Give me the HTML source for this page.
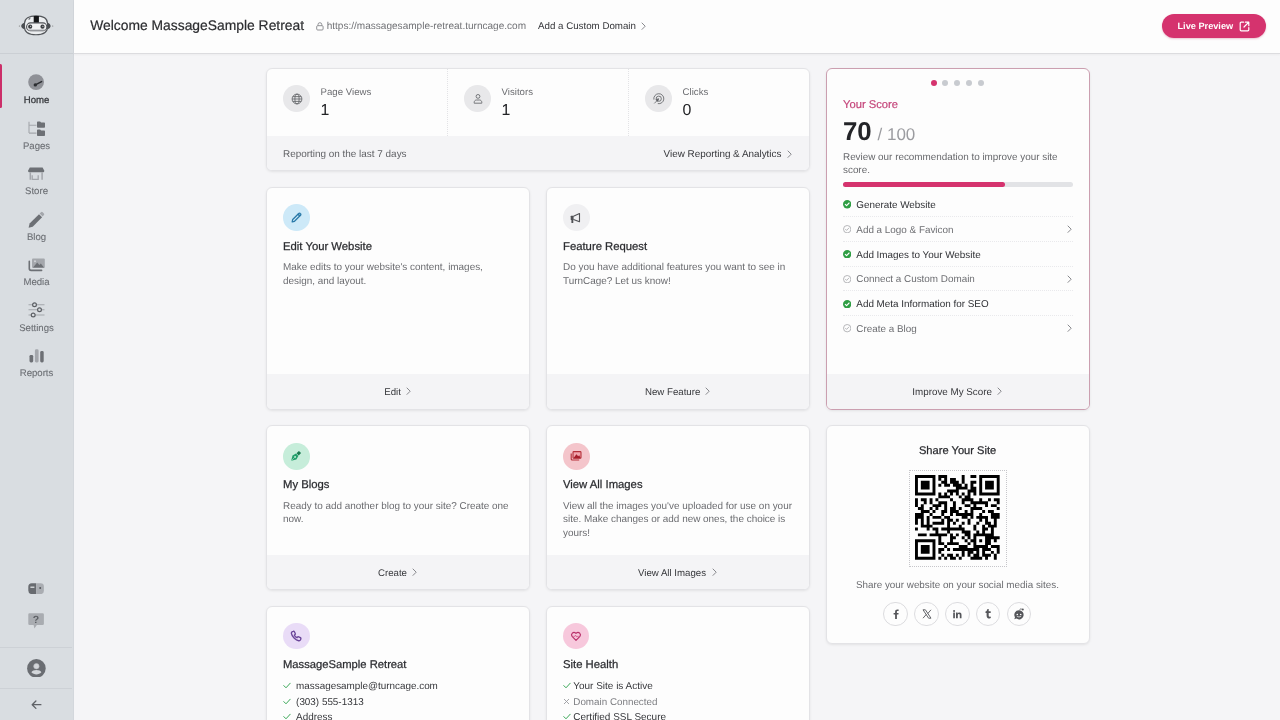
<!DOCTYPE html>
<html><head><meta charset="utf-8"><style>
*{box-sizing:border-box;margin:0;padding:0}
html,body{width:1280px;height:720px;overflow:hidden;-webkit-font-smoothing:antialiased;text-rendering:geometricPrecision;background:#f5f5f7;font-family:"Liberation Sans",Arial,sans-serif;color:#2f3033}
.a{position:absolute;display:block}
.t{position:absolute;line-height:1;white-space:nowrap}
.card{position:absolute;background:#fdfdfd;border:1px solid #e3e3e6;border-radius:6px;box-shadow:0 1px 2.5px rgba(0,0,0,.08);overflow:hidden}
.foot{position:absolute;left:0;right:0;bottom:0;background:#f4f4f6}
.b{-webkit-text-stroke:0.25px currentColor}
</style></head><body><div id="root" style="position:absolute;left:0;top:0;width:1280px;height:720px;will-change:transform">
<div class="a" style="left:0;top:0;width:74px;height:720px;background:#d9dde1"></div>
<div class="a" style="left:72.5px;top:0;width:1.5px;height:720px;background:#d3d7dc"></div>
<div class="a" style="left:0;top:53px;width:72.5px;height:1px;background:#cbcfd4"></div>
<div class="a" style="left:0;top:647px;width:72px;height:1px;background:#cdd1d6"></div>
<div class="a" style="left:0;top:688px;width:72px;height:1px;background:#cdd1d6"></div>
<div class="a" style="left:0;top:64.3px;width:2.3px;height:44px;background:#cc2f69;border-radius:0 1.5px 1.5px 0"></div>
<svg class="a" style="left:18.00px;top:14.00px" width="36" height="23" viewBox="0 0 36 23" ><path d="M6.5 9.5 C6.5 4 11 1.9 18 1.9 C25 1.9 29.5 4 29.5 9.5 L29.5 13 C29.5 18.5 24.5 20.8 18 20.8 C11.5 20.8 6.5 18.5 6.5 13 Z" fill="#eceef0" stroke="#54575b" stroke-width="1.1"/><path d="M6.6 8.5 C4.6 9.2 3.2 10.6 3.2 12 C3.2 13.4 4.6 14.6 6.6 15.2 Z" fill="#4a4d51"/><path d="M29.4 8.5 C31.4 9.2 32.6 10.6 32.6 12 C32.6 13.4 31.4 14.6 29.4 15.2 Z" fill="#4a4d51"/><circle cx="1.4" cy="12" r="0.6" fill="#777"/><circle cx="34.7" cy="12" r="0.6" fill="#777"/><rect x="15.7" y="2" width="5.2" height="6.8" fill="#151618"/><path d="M9.8 5.2 L12.6 3.4 L12 5.4 Z" fill="#55585c"/><rect x="8.6" y="8.9" width="20.2" height="7.9" rx="3.9" fill="#f1f1f2" stroke="#505357" stroke-width="1.1"/><path d="M10.5 16.2 H27" stroke="#9a9da1" stroke-width="1.2"/><circle cx="12.2" cy="12.7" r="2.1" fill="#3c3f43"/><circle cx="24.5" cy="12.7" r="2.1" fill="#3c3f43"/><circle cx="12.6" cy="12.3" r="0.6" fill="#ccc"/><circle cx="24.9" cy="12.3" r="0.6" fill="#ccc"/></svg>
<svg class="a" style="left:28.00px;top:74.40px" width="16.2" height="16.2" viewBox="0 0 16.2 16.2" ><circle cx="8.1" cy="8.1" r="7.9" fill="#8f9197"/><path d="M7.3 10.9 L13.6 7.6" stroke="#2c2e32" stroke-width="1.5" stroke-linecap="round"/><circle cx="7.3" cy="10.9" r="1.7" fill="#2c2e32"/></svg>
<svg class="a" style="left:27.50px;top:120.50px" width="17.5" height="15" viewBox="0 0 17.5 15" ><path d="M1 0.8V12.1M1 4.3H8.5M1 12.1H8.5" fill="none" stroke="#a4a7ac" stroke-width="1.1"/><path d="M9 1.3a.8.8 0 0 1 .8-.8h2.3l1 1h3.1a.8.8 0 0 1 .8.8V6a.8.8 0 0 1-.8.8H9.8A.8.8 0 0 1 9 6z" fill="#6d7075"/><path d="M9 9.2a.8.8 0 0 1 .8-.8h2.3l1 1h3.1a.8.8 0 0 1 .8.8v4a.8.8 0 0 1-.8.8H9.8a.8.8 0 0 1-.8-.8z" fill="#6d7075"/></svg>
<svg class="a" style="left:28.00px;top:166.50px" width="16.5" height="13.5" viewBox="0 0 16.5 13.5" ><path d="M1.8 0.6H14.6L16.2 3.6V4.6H0.2V3.6Z" fill="#6d7075"/><rect x="0.3" y="3.6" width="15.8" height="1.6" rx="0.8" fill="#6d7075"/><path d="M2.3 5.2V12.8M14.1 5.2V12.8" stroke="#a4a7ac" stroke-width="1.5"/><path d="M4.2 8.3V12.4H10.2V8.3" fill="none" stroke="#a4a7ac" stroke-width="1.3"/></svg>
<svg class="a" style="left:28.00px;top:210.50px" width="16.5" height="17.5" viewBox="0 0 16.5 17.5" ><path d="M0.6 16.8 L1.6 12.6 L11 3.2 L14.1 6.3 L4.7 15.7 Z" fill="#6d7075"/><path d="M11.6 2.6 L13 1.2 a1.2 1.2 0 0 1 1.7 0 L15.9 2.4 a1.2 1.2 0 0 1 0 1.7 L14.6 5.6 Z" fill="#a4a7ac"/></svg>
<svg class="a" style="left:27.50px;top:258.00px" width="17.5" height="13.5" viewBox="0 0 17.5 13.5" ><path d="M1.3 3.2V10.6a1.8 1.8 0 0 0 1.8 1.8H13.6" fill="none" stroke="#6d7075" stroke-width="1.6" stroke-linecap="round"/><rect x="4" y="0.5" width="12.8" height="9.5" rx="1" fill="#a4a7ac"/><path d="M5 9.4 L9.2 4.6 L11.4 7 L12.8 5.6 L16 9.4 Z" fill="#6d7075"/><circle cx="7" cy="3.2" r="1" fill="#d0d3d7"/></svg>
<svg class="a" style="left:27.50px;top:302.00px" width="17.5" height="16" viewBox="0 0 17.5 16" ><path d="M0.5 2.8H16.5M0.5 7.8H16.5M0.5 13H16.5" stroke="#a4a7ac" stroke-width="1.1"/><circle cx="6.5" cy="2.8" r="1.9" fill="#d9dde1" stroke="#5d6065" stroke-width="1.2"/><circle cx="11.5" cy="7.8" r="1.9" fill="#d9dde1" stroke="#5d6065" stroke-width="1.2"/><circle cx="5.2" cy="13" r="1.9" fill="#d9dde1" stroke="#5d6065" stroke-width="1.2"/></svg>
<svg class="a" style="left:28.50px;top:348.50px" width="15.5" height="14" viewBox="0 0 15.5 14" ><rect x="0.5" y="5.9" width="3.7" height="7.6" rx="1.4" fill="#6d7075"/><rect x="5.9" y="0.3" width="3.7" height="13.2" rx="1.4" fill="#a4a7ac"/><rect x="11.2" y="2.1" width="3.5" height="11.4" rx="1.4" fill="#6d7075"/></svg>
<svg class="a" style="left:27.80px;top:582.80px" width="16.2" height="11.4" viewBox="0 0 16.2 11.4" ><path d="M3.8 0.3H8.2V11.1H3.8A3.5 3.5 0 0 1 0.3 7.6V3.8A3.5 3.5 0 0 1 3.8 0.3Z" fill="#686b70"/><path d="M8.2 0.3H12.6A3.3 3.3 0 0 1 15.9 3.6V7.8A3.3 3.3 0 0 1 12.6 11.1H8.2Z" fill="#aaadb2"/><path d="M2.4 4.2H6.4" stroke="#e8eaec" stroke-width="1.2"/><circle cx="12.2" cy="5" r="1" fill="#55585c"/></svg>
<svg class="a" style="left:27.80px;top:612.50px" width="16.2" height="16.5" viewBox="0 0 16.2 16.5" ><path d="M1.6 0.3H14.6A1.3 1.3 0 0 1 15.9 1.6V10.7A1.3 1.3 0 0 1 14.6 12H8.8L6.4 15.6L5.6 12H1.6A1.3 1.3 0 0 1 0.3 10.7V1.6A1.3 1.3 0 0 1 1.6 0.3Z" fill="#a9acb1"/><text x="8.1" y="10" text-anchor="middle" font-family="Liberation Sans" font-weight="bold" font-size="10.5" fill="#5c5f64">?</text></svg>
<svg class="a" style="left:26.90px;top:658.60px" width="18.8" height="18.8" viewBox="0 0 18.8 18.8" ><circle cx="9.4" cy="9.4" r="9.3" fill="#6a6d72"/><circle cx="9.4" cy="7.2" r="2.7" fill="#d3d6da" stroke="#b8bbc0" stroke-width="0.6"/><path d="M4.4 13.3 C5.2 11.6 7 10.9 9.4 10.9 C11.8 10.9 13.6 11.6 14.4 13.3 C13 14.8 11.3 15.4 9.4 15.4 C7.5 15.4 5.8 14.8 4.4 13.3 Z" fill="#d3d6da"/></svg>
<svg class="a" style="left:31.00px;top:700.00px" width="11" height="9.5" viewBox="0 0 11 9.5" ><path d="M9.9 4.7H1.3M4.9 1 L1.2 4.7 L4.9 8.4" fill="none" stroke="#5f6267" stroke-width="1.3" stroke-linecap="round" stroke-linejoin="round"/></svg>
<div class="t" style="left:-0.50px;width:74px;text-align:center;top:96.00px;font-size:9.6px;color:#3a3c40;-webkit-text-stroke:0.3px currentColor">Home</div>
<div class="t" style="left:-0.50px;width:74px;text-align:center;top:142.00px;font-size:9.6px;color:#6c6f74;-webkit-text-stroke:0.1px currentColor">Pages</div>
<div class="t" style="left:-0.50px;width:74px;text-align:center;top:187.00px;font-size:9.6px;color:#6c6f74;-webkit-text-stroke:0.1px currentColor">Store</div>
<div class="t" style="left:-0.50px;width:74px;text-align:center;top:233.00px;font-size:9.6px;color:#6c6f74;-webkit-text-stroke:0.1px currentColor">Blog</div>
<div class="t" style="left:-0.50px;width:74px;text-align:center;top:278.00px;font-size:9.6px;color:#6c6f74;-webkit-text-stroke:0.1px currentColor">Media</div>
<div class="t" style="left:-0.50px;width:74px;text-align:center;top:324.00px;font-size:9.6px;color:#6c6f74;-webkit-text-stroke:0.1px currentColor">Settings</div>
<div class="t" style="left:-0.50px;width:74px;text-align:center;top:369.00px;font-size:9.6px;color:#6c6f74;-webkit-text-stroke:0.1px currentColor">Reports</div>
<div class="a" style="left:74px;top:0;width:1206px;height:54px;background:#fdfdfd;border-bottom:1px solid #dcdcdf;box-shadow:0 1px 2px rgba(0,0,0,.04)"></div>
<div class="t" style="left:90.20px;top:19.00px;font-size:13.87px;color:#2c2d30;-webkit-text-stroke:0.2px currentColor">Welcome MassageSample Retreat</div>
<div class="t" style="left:326.70px;top:22.00px;font-size:10.06px;color:#717276;">https://massagesample-retreat.turncage.com</div>
<div class="t" style="left:538.00px;top:22.00px;font-size:9.74px;color:#35363a;">Add a Custom Domain</div>
<svg class="a" style="left:641.00px;top:21.60px" width="6.2" height="8.4" viewBox="-1 -4.2 6.2 8.4"><path d="M0 -3.2L3.2 0L0 3.2" fill="none" stroke="#7a7b7f" stroke-width="0.9" stroke-linecap="round" stroke-linejoin="round"/></svg>
<svg class="a" style="left:315.50px;top:21.50px" width="8" height="9" viewBox="0 0 8 9" ><rect x="0.7" y="3.7" width="6.4" height="4.3" rx="1" fill="none" stroke="#86878b" stroke-width="0.9"/><path d="M2 3.7V2.6a1.9 1.9 0 0 1 3.8 0v1.1" fill="none" stroke="#86878b" stroke-width="0.9"/></svg>
<div class="a" style="left:1162px;top:14px;width:104px;height:23.5px;border-radius:12px;background:#d5336e;box-shadow:0 1px 2px rgba(180,30,80,.25)"></div>
<div class="t" style="left:1177.50px;top:22.00px;font-size:9.2px;color:#fff;font-weight:bold">Live Preview</div>
<svg class="a" style="left:1239.40px;top:20.60px" width="11" height="11" viewBox="0 0 11 11" ><path d="M4.5 1.2H2.2a1 1 0 0 0-1 1v6.6a1 1 0 0 0 1 1h6.6a1 1 0 0 0 1-1V6.5M6.3 1.2h3.5v3.5M9.8 1.2L5 6" fill="none" stroke="#fff" stroke-width="1.2" stroke-linecap="round" stroke-linejoin="round"/></svg>
<div class="card" style="left:266px;top:68px;width:544px;height:103px;"><div class="foot" style="height:34px"></div></div>
<div class="card" style="left:826px;top:68px;width:264px;height:342px;border-color:#cb9fb0;"><div class="foot" style="height:34.6px"></div></div>
<div class="card" style="left:266px;top:187px;width:264px;height:223px;"><div class="foot" style="height:34.8px"></div></div>
<div class="card" style="left:546px;top:187px;width:264px;height:223px;"><div class="foot" style="height:34.8px"></div></div>
<div class="card" style="left:266px;top:425px;width:264px;height:165px;"><div class="foot" style="height:34px"></div></div>
<div class="card" style="left:546px;top:425px;width:264px;height:165px;"><div class="foot" style="height:34px"></div></div>
<div class="card" style="left:826px;top:425px;width:264px;height:219px;"></div>
<div class="card" style="left:266px;top:606px;width:264px;height:140px;"></div>
<div class="card" style="left:546px;top:606px;width:264px;height:140px;"></div>
<div class="a" style="left:447.3px;top:69px;height:67px;border-left:1px dotted #e3e3e6"></div>
<div class="a" style="left:628.3px;top:69px;height:67px;border-left:1px dotted #e3e3e6"></div>
<div class="a" style="left:283.35px;top:85.45px;width:26.5px;height:26.5px;border-radius:50%;background:#e8e8ea"></div>
<svg class="a" style="left:290.60px;top:92.70px" width="12" height="12" viewBox="0 0 12 12" fill="none" stroke="#626468" stroke-width="0.85"><circle cx="6" cy="6" r="4.9"/><ellipse cx="6" cy="6" rx="2.1" ry="4.9"/><path d="M1.1 6h9.8M1.9 3.6h8.2M1.9 8.4h8.2"/></svg>
<div class="t" style="left:320.60px;top:88.00px;font-size:9.65px;color:#6b6c70;">Page Views</div>
<div class="t" style="left:320.60px;top:103.00px;font-size:15.9px;color:#222326;">1</div>
<div class="a" style="left:464.35px;top:85.45px;width:26.5px;height:26.5px;border-radius:50%;background:#e8e8ea"></div>
<svg class="a" style="left:471.60px;top:92.70px" width="12" height="12" viewBox="0 0 12 12" fill="none" stroke="#626468" stroke-width="0.85"><circle cx="6" cy="3.4" r="1.9"/><path d="M2.2 10.2V9.3c0-1.3 1-2.3 2.3-2.3h3c1.3 0 2.3 1 2.3 2.3v.9z"/></svg>
<div class="t" style="left:501.60px;top:88.00px;font-size:9.65px;color:#6b6c70;">Visitors</div>
<div class="t" style="left:501.60px;top:103.00px;font-size:15.9px;color:#222326;">1</div>
<div class="a" style="left:645.35px;top:85.45px;width:26.5px;height:26.5px;border-radius:50%;background:#e8e8ea"></div>
<svg class="a" style="left:652.60px;top:92.70px" width="12" height="12" viewBox="0 0 12 12" fill="none" stroke="#626468" stroke-width="0.85"><path d="M0.9 6.6A5 5 0 1 1 4.8 10.6"/><path d="M3.2 6.2A2.6 2.6 0 1 1 5.3 8.3"/><path d="M1.3 10.4L4 7.7"/><path d="M5.6 5.7L2.9 6.7L4.7 8.5Z" fill="#55575b"/></svg>
<div class="t" style="left:682.60px;top:88.00px;font-size:9.65px;color:#6b6c70;">Clicks</div>
<div class="t" style="left:682.60px;top:103.00px;font-size:15.9px;color:#222326;">0</div>
<div class="t" style="left:283.00px;top:150.00px;font-size:9.93px;color:#616266;">Reporting on the last 7 days</div>
<div class="t" style="left:663.60px;top:150.00px;font-size:9.89px;color:#36373b;">View Reporting &amp; Analytics</div>
<svg class="a" style="left:787.20px;top:149.80px" width="6.2" height="8.4" viewBox="-1 -4.2 6.2 8.4"><path d="M0 -3.2L3.2 0L0 3.2" fill="none" stroke="#7a7b7f" stroke-width="0.9" stroke-linecap="round" stroke-linejoin="round"/></svg>
<div class="a" style="left:930.50px;top:80.00px;width:6px;height:6px;border-radius:50%;background:#d5336e"></div>
<div class="a" style="left:942.47px;top:80.00px;width:6px;height:6px;border-radius:50%;background:#c8cbd0"></div>
<div class="a" style="left:954.44px;top:80.00px;width:6px;height:6px;border-radius:50%;background:#c8cbd0"></div>
<div class="a" style="left:966.41px;top:80.00px;width:6px;height:6px;border-radius:50%;background:#c8cbd0"></div>
<div class="a" style="left:978.38px;top:80.00px;width:6px;height:6px;border-radius:50%;background:#c8cbd0"></div>
<div class="t" style="left:843.00px;top:100.00px;font-size:11.2px;color:#c4457a;-webkit-text-stroke:0.2px currentColor">Your Score</div>
<div class="t" style="left:843.00px;top:120.00px;font-size:25.8px;color:#232428;font-weight:bold">70</div>
<div class="t" style="left:877.50px;top:126.00px;font-size:17px;color:#9b9ca0;">/ 100</div>
<div class="t" style="left:843.00px;top:153.00px;font-size:9.9px;color:#67686c;">Review our recommendation to improve your site</div>
<div class="t" style="left:843.00px;top:166.00px;font-size:9.9px;color:#67686c;">score.</div>
<div class="a" style="left:843px;top:182px;width:230px;height:5px;border-radius:3px;background:#e2e3e6"></div>
<div class="a" style="left:843px;top:182px;width:161.5px;height:5px;border-radius:3px;background:#d5336e"></div>
<svg class="a" style="left:842.50px;top:200.30px" width="8.4" height="8.4" viewBox="0 0 8.4 8.4" ><circle cx="4.2" cy="4.2" r="4.2" fill="#2f9e44"/><path d="M2.3 4.3l1.3 1.3 2.5-2.6" fill="none" stroke="#fff" stroke-width="1.1" stroke-linecap="round" stroke-linejoin="round"/></svg>
<div class="t" style="left:856.30px;top:201.00px;font-size:9.9px;color:#2f3034;">Generate Website</div>
<div class="a" style="left:843px;top:215.9px;width:230px;border-top:1px dotted #e9e9ec"></div>
<svg class="a" style="left:842.50px;top:225.10px" width="8.4" height="8.4" viewBox="0 0 8.4 8.4" ><circle cx="4.2" cy="4.2" r="3.7" fill="none" stroke="#a5a6aa" stroke-width="0.8"/><path d="M2.5 4.3l1.1 1.1 2.2-2.3" fill="none" stroke="#a5a6aa" stroke-width="0.8" stroke-linecap="round" stroke-linejoin="round"/></svg>
<div class="t" style="left:856.30px;top:226.00px;font-size:9.9px;color:#6d6e72;">Add a Logo &amp; Favicon</div>
<svg class="a" style="left:1067.30px;top:225.10px" width="6.2" height="8.4" viewBox="-1 -4.2 6.2 8.4"><path d="M0 -3.2L3.2 0L0 3.2" fill="none" stroke="#7a7b7f" stroke-width="0.9" stroke-linecap="round" stroke-linejoin="round"/></svg>
<div class="a" style="left:843px;top:240.7px;width:230px;border-top:1px dotted #e9e9ec"></div>
<svg class="a" style="left:842.50px;top:249.90px" width="8.4" height="8.4" viewBox="0 0 8.4 8.4" ><circle cx="4.2" cy="4.2" r="4.2" fill="#2f9e44"/><path d="M2.3 4.3l1.3 1.3 2.5-2.6" fill="none" stroke="#fff" stroke-width="1.1" stroke-linecap="round" stroke-linejoin="round"/></svg>
<div class="t" style="left:856.30px;top:251.00px;font-size:9.9px;color:#2f3034;">Add Images to Your Website</div>
<div class="a" style="left:843px;top:265.5px;width:230px;border-top:1px dotted #e9e9ec"></div>
<svg class="a" style="left:842.50px;top:274.70px" width="8.4" height="8.4" viewBox="0 0 8.4 8.4" ><circle cx="4.2" cy="4.2" r="3.7" fill="none" stroke="#a5a6aa" stroke-width="0.8"/><path d="M2.5 4.3l1.1 1.1 2.2-2.3" fill="none" stroke="#a5a6aa" stroke-width="0.8" stroke-linecap="round" stroke-linejoin="round"/></svg>
<div class="t" style="left:856.30px;top:275.00px;font-size:9.9px;color:#6d6e72;">Connect a Custom Domain</div>
<svg class="a" style="left:1067.30px;top:274.70px" width="6.2" height="8.4" viewBox="-1 -4.2 6.2 8.4"><path d="M0 -3.2L3.2 0L0 3.2" fill="none" stroke="#7a7b7f" stroke-width="0.9" stroke-linecap="round" stroke-linejoin="round"/></svg>
<div class="a" style="left:843px;top:290.3px;width:230px;border-top:1px dotted #e9e9ec"></div>
<svg class="a" style="left:842.50px;top:299.50px" width="8.4" height="8.4" viewBox="0 0 8.4 8.4" ><circle cx="4.2" cy="4.2" r="4.2" fill="#2f9e44"/><path d="M2.3 4.3l1.3 1.3 2.5-2.6" fill="none" stroke="#fff" stroke-width="1.1" stroke-linecap="round" stroke-linejoin="round"/></svg>
<div class="t" style="left:856.30px;top:300.00px;font-size:9.9px;color:#2f3034;">Add Meta Information for SEO</div>
<div class="a" style="left:843px;top:315.1px;width:230px;border-top:1px dotted #e9e9ec"></div>
<svg class="a" style="left:842.50px;top:324.30px" width="8.4" height="8.4" viewBox="0 0 8.4 8.4" ><circle cx="4.2" cy="4.2" r="3.7" fill="none" stroke="#a5a6aa" stroke-width="0.8"/><path d="M2.5 4.3l1.1 1.1 2.2-2.3" fill="none" stroke="#a5a6aa" stroke-width="0.8" stroke-linecap="round" stroke-linejoin="round"/></svg>
<div class="t" style="left:856.30px;top:325.00px;font-size:9.9px;color:#6d6e72;">Create a Blog</div>
<svg class="a" style="left:1067.30px;top:324.30px" width="6.2" height="8.4" viewBox="-1 -4.2 6.2 8.4"><path d="M0 -3.2L3.2 0L0 3.2" fill="none" stroke="#7a7b7f" stroke-width="0.9" stroke-linecap="round" stroke-linejoin="round"/></svg>
<div class="t" style="left:912.30px;top:388.00px;font-size:9.82px;color:#36373b;">Improve My Score</div>
<svg class="a" style="left:996.60px;top:387.30px" width="6.2" height="8.4" viewBox="-1 -4.2 6.2 8.4"><path d="M0 -3.2L3.2 0L0 3.2" fill="none" stroke="#7a7b7f" stroke-width="0.9" stroke-linecap="round" stroke-linejoin="round"/></svg>
<div class="a" style="left:282.95px;top:204.35px;width:26.7px;height:26.7px;border-radius:50%;background:#cde9f8"></div>
<svg class="a" style="left:290.00px;top:211.50px" width="12" height="12" viewBox="0 0 12 12" ><path d="M2.2 9.8l.5-2.3 6-6a1.1 1.1 0 0 1 1.6 0l.2.2a1.1 1.1 0 0 1 0 1.6l-6 6z" fill="none" stroke="#2a7aa9" stroke-width="1.3" stroke-linejoin="round"/><path d="M7.8 1.9l2.3 2.3" stroke="#2a7aa9" stroke-width="1.6"/></svg>
<div class="t b" style="left:283.00px;top:242.00px;font-size:11.3px;color:#2b2c30;">Edit Your Website</div>
<div class="t" style="left:283.00px;top:263.00px;font-size:9.93px;color:#6b6c70;">Make edits to your website's content, images,</div>
<div class="t" style="left:283.00px;top:277.00px;font-size:9.93px;color:#6b6c70;">design, and layout.</div>
<div class="t" style="left:384.30px;top:388.00px;font-size:9.66px;color:#36373b;">Edit</div>
<svg class="a" style="left:405.90px;top:387.40px" width="6.2" height="8.4" viewBox="-1 -4.2 6.2 8.4"><path d="M0 -3.2L3.2 0L0 3.2" fill="none" stroke="#7a7b7f" stroke-width="0.9" stroke-linecap="round" stroke-linejoin="round"/></svg>
<div class="a" style="left:562.95px;top:204.35px;width:26.7px;height:26.7px;border-radius:50%;background:#f0f0f2"></div>
<svg class="a" style="left:570.20px;top:212.20px" width="12" height="12" viewBox="0 0 12 12" ><rect x="0.7" y="3.8" width="2.9" height="4.2" rx="0.5" fill="#505155"/><rect x="1.4" y="7.4" width="1.9" height="3.6" rx="0.5" fill="#505155"/><path d="M3.5 4.3L9.5 1.6V9.8L3.5 7.5" fill="none" stroke="#505155" stroke-width="1.1" stroke-linejoin="round"/></svg>
<div class="t b" style="left:563.00px;top:242.00px;font-size:11.3px;color:#2b2c30;">Feature Request</div>
<div class="t" style="left:563.00px;top:263.00px;font-size:9.93px;color:#6b6c70;">Do you have additional features you want to see in</div>
<div class="t" style="left:563.00px;top:277.00px;font-size:9.93px;color:#6b6c70;">TurnCage? Let us know!</div>
<div class="t" style="left:645.00px;top:388.00px;font-size:9.66px;color:#36373b;">New Feature</div>
<svg class="a" style="left:705.00px;top:387.40px" width="6.2" height="8.4" viewBox="-1 -4.2 6.2 8.4"><path d="M0 -3.2L3.2 0L0 3.2" fill="none" stroke="#7a7b7f" stroke-width="0.9" stroke-linecap="round" stroke-linejoin="round"/></svg>
<div class="a" style="left:282.95px;top:442.85px;width:26.7px;height:26.7px;border-radius:50%;background:#c6edda"></div>
<svg class="a" style="left:290.00px;top:449.50px" width="12" height="12" viewBox="0 0 12 12" ><path d="M1.2 10.8L2.5 5.6L6 3.6L8.4 6L6.4 9.5Z" fill="#22a06b"/><path d="M6.5 3.3L8.9 0.9L11.1 3.1L8.7 5.5Z" fill="#1a7a50"/><circle cx="5.1" cy="6.9" r="0.95" fill="#c6edda"/><path d="M1.5 10.5L4.5 7.5" stroke="#c6edda" stroke-width="0.5"/></svg>
<div class="t b" style="left:283.00px;top:480.00px;font-size:11.3px;color:#2b2c30;">My Blogs</div>
<div class="t" style="left:283.00px;top:502.00px;font-size:9.93px;color:#6b6c70;">Ready to add another blog to your site? Create one</div>
<div class="t" style="left:283.00px;top:515.00px;font-size:9.93px;color:#6b6c70;">now.</div>
<div class="t" style="left:378.00px;top:569.00px;font-size:9.66px;color:#36373b;">Create</div>
<svg class="a" style="left:412.20px;top:567.90px" width="6.2" height="8.4" viewBox="-1 -4.2 6.2 8.4"><path d="M0 -3.2L3.2 0L0 3.2" fill="none" stroke="#7a7b7f" stroke-width="0.9" stroke-linecap="round" stroke-linejoin="round"/></svg>
<div class="a" style="left:562.95px;top:442.85px;width:26.7px;height:26.7px;border-radius:50%;background:#f4c5cb"></div>
<svg class="a" style="left:570.00px;top:450.00px" width="12" height="12" viewBox="0 0 12 12" ><path d="M1.2 3.6v5.4a1 1 0 0 0 1 1h7" fill="none" stroke="#b5303a" stroke-width="1.1"/><rect x="3" y="1.6" width="8" height="6.6" rx="0.8" fill="#f0a5ad" stroke="#b5303a" stroke-width="1.1"/><path d="M3.4 8.2L6.4 4.2L8.2 6.2L9.2 5.2L10.8 8.2Z" fill="#a61e2b"/></svg>
<div class="t b" style="left:563.00px;top:480.00px;font-size:11.3px;color:#2b2c30;">View All Images</div>
<div class="t" style="left:563.00px;top:502.00px;font-size:9.93px;color:#6b6c70;">View all the images you've uploaded for use on your</div>
<div class="t" style="left:563.00px;top:515.00px;font-size:9.93px;color:#6b6c70;">site. Make changes or add new ones, the choice is</div>
<div class="t" style="left:563.00px;top:529.00px;font-size:9.93px;color:#6b6c70;">yours!</div>
<div class="t" style="left:638.00px;top:569.00px;font-size:9.66px;color:#36373b;">View All Images</div>
<svg class="a" style="left:711.70px;top:567.90px" width="6.2" height="8.4" viewBox="-1 -4.2 6.2 8.4"><path d="M0 -3.2L3.2 0L0 3.2" fill="none" stroke="#7a7b7f" stroke-width="0.9" stroke-linecap="round" stroke-linejoin="round"/></svg>
<div class="t" style="left:807.60px;width:300px;text-align:center;top:446.00px;font-size:11.14px;color:#2b2c30;-webkit-text-stroke:0.25px currentColor">Share Your Site</div>
<div class="a" style="left:908.8px;top:469.5px;width:98px;height:97.5px;border:1px dotted #c6c6ca"></div>
<svg class="a" style="left:915.3px;top:475.3px" width="84.68" height="84.68" viewBox="0 0 29 29"><path d="M0 0h7v1h-7zM8 0h3v1h-3zM16 0h1v1h-1zM19 0h2v1h-2zM22 0h7v1h-7zM0 1h1v1h-1zM6 1h1v1h-1zM8 1h1v1h-1zM10 1h1v1h-1zM12 1h2v1h-2zM16 1h1v1h-1zM22 1h1v1h-1zM28 1h1v1h-1zM0 2h1v1h-1zM2 2h3v1h-3zM6 2h1v1h-1zM9 2h2v1h-2zM12 2h3v1h-3zM16 2h1v1h-1zM19 2h2v1h-2zM22 2h1v1h-1zM24 2h3v1h-3zM28 2h1v1h-1zM0 3h1v1h-1zM2 3h3v1h-3zM6 3h1v1h-1zM8 3h1v1h-1zM10 3h2v1h-2zM13 3h3v1h-3zM17 3h1v1h-1zM19 3h1v1h-1zM22 3h1v1h-1zM24 3h3v1h-3zM28 3h1v1h-1zM0 4h1v1h-1zM2 4h3v1h-3zM6 4h1v1h-1zM14 4h4v1h-4zM19 4h2v1h-2zM22 4h1v1h-1zM24 4h3v1h-3zM28 4h1v1h-1zM0 5h1v1h-1zM6 5h1v1h-1zM11 5h4v1h-4zM18 5h3v1h-3zM22 5h1v1h-1zM28 5h1v1h-1zM0 6h7v1h-7zM8 6h1v1h-1zM10 6h1v1h-1zM12 6h1v1h-1zM14 6h1v1h-1zM16 6h1v1h-1zM18 6h1v1h-1zM20 6h1v1h-1zM22 6h7v1h-7zM8 7h4v1h-4zM15 7h1v1h-1zM17 7h2v1h-2zM0 8h1v1h-1zM2 8h2v1h-2zM5 8h1v1h-1zM7 8h1v1h-1zM12 8h1v1h-1zM16 8h4v1h-4zM22 8h1v1h-1zM25 8h1v1h-1zM27 8h2v1h-2zM0 9h1v1h-1zM3 9h1v1h-1zM5 9h1v1h-1zM8 9h3v1h-3zM13 9h1v1h-1zM16 9h1v1h-1zM19 9h6v1h-6zM28 9h1v1h-1zM0 10h1v1h-1zM2 10h1v1h-1zM6 10h3v1h-3zM10 10h1v1h-1zM13 10h1v1h-1zM17 10h2v1h-2zM20 10h1v1h-1zM24 10h1v1h-1zM26 10h2v1h-2zM1 11h2v1h-2zM5 11h1v1h-1zM7 11h1v1h-1zM10 11h1v1h-1zM12 11h2v1h-2zM15 11h1v1h-1zM19 11h4v1h-4zM28 11h1v1h-1zM2 12h3v1h-3zM6 12h1v1h-1zM9 12h2v1h-2zM12 12h3v1h-3zM17 12h1v1h-1zM19 12h1v1h-1zM23 12h1v1h-1zM25 12h2v1h-2zM0 13h3v1h-3zM5 13h1v1h-1zM9 13h1v1h-1zM12 13h1v1h-1zM14 13h6v1h-6zM22 13h1v1h-1zM26 13h3v1h-3zM0 14h3v1h-3zM4 14h1v1h-1zM6 14h3v1h-3zM10 14h2v1h-2zM16 14h2v1h-2zM19 14h1v1h-1zM21 14h4v1h-4zM26 14h3v1h-3zM0 15h1v1h-1zM2 15h1v1h-1zM4 15h1v1h-1zM9 15h1v1h-1zM11 15h2v1h-2zM14 15h1v1h-1zM18 15h1v1h-1zM22 15h1v1h-1zM24 15h1v1h-1zM27 15h1v1h-1zM0 16h1v1h-1zM2 16h1v1h-1zM4 16h1v1h-1zM6 16h4v1h-4zM11 16h1v1h-1zM13 16h1v1h-1zM16 16h1v1h-1zM18 16h1v1h-1zM21 16h1v1h-1zM24 16h2v1h-2zM27 16h1v1h-1zM2 17h4v1h-4zM11 17h1v1h-1zM15 17h1v1h-1zM20 17h1v1h-1zM23 17h1v1h-1zM25 17h3v1h-3zM0 18h1v1h-1zM4 18h1v1h-1zM6 18h2v1h-2zM9 18h8v1h-8zM20 18h1v1h-1zM23 18h2v1h-2zM26 18h1v1h-1zM7 19h1v1h-1zM11 19h1v1h-1zM16 19h3v1h-3zM21 19h1v1h-1zM23 19h1v1h-1zM26 19h1v1h-1zM1 20h3v1h-3zM5 20h6v1h-6zM12 20h1v1h-1zM14 20h1v1h-1zM17 20h2v1h-2zM20 20h7v1h-7zM8 21h1v1h-1zM12 21h2v1h-2zM16 21h1v1h-1zM18 21h1v1h-1zM20 21h1v1h-1zM24 21h5v1h-5zM0 22h7v1h-7zM8 22h1v1h-1zM12 22h1v1h-1zM17 22h1v1h-1zM19 22h2v1h-2zM22 22h1v1h-1zM24 22h2v1h-2zM27 22h1v1h-1zM0 23h1v1h-1zM6 23h1v1h-1zM8 23h2v1h-2zM11 23h4v1h-4zM18 23h1v1h-1zM20 23h1v1h-1zM24 23h2v1h-2zM0 24h1v1h-1zM2 24h3v1h-3zM6 24h1v1h-1zM10 24h1v1h-1zM15 24h3v1h-3zM20 24h5v1h-5zM26 24h3v1h-3zM0 25h1v1h-1zM2 25h3v1h-3zM6 25h1v1h-1zM8 25h2v1h-2zM11 25h1v1h-1zM13 25h9v1h-9zM23 25h3v1h-3zM28 25h1v1h-1zM0 26h1v1h-1zM2 26h3v1h-3zM6 26h1v1h-1zM8 26h1v1h-1zM16 26h1v1h-1zM18 26h2v1h-2zM21 26h1v1h-1zM23 26h1v1h-1zM26 26h1v1h-1zM28 26h1v1h-1zM0 27h1v1h-1zM6 27h1v1h-1zM9 27h1v1h-1zM11 27h2v1h-2zM14 27h1v1h-1zM16 27h1v1h-1zM18 27h1v1h-1zM20 27h2v1h-2zM23 27h3v1h-3zM27 27h1v1h-1zM0 28h7v1h-7zM8 28h1v1h-1zM10 28h1v1h-1zM12 28h2v1h-2zM15 28h1v1h-1zM19 28h4v1h-4zM24 28h1v1h-1zM27 28h1v1h-1z" fill="#000"/></svg>
<div class="t" style="left:807.40px;width:300px;text-align:center;top:581.00px;font-size:9.85px;color:#6b6c70;">Share your website on your social media sites.</div>
<div class="a" style="left:883.40px;top:601.90px;width:24.6px;height:24.6px;border-radius:50%;border:1px solid #dcdcdf;background:#fdfdfd"></div>
<svg class="a" style="left:889.70px;top:608.20px" width="12" height="12" viewBox="0 0 12 12" ><path d="M6.9 11V6.6h1.5l.2-1.7H6.9V3.8c0-.5.1-.8.8-.8h.9V1.5c-.2 0-.7-.1-1.3-.1-1.3 0-2.2.8-2.2 2.2v1.3H3.6v1.7h1.5V11z" fill="#55565a"/></svg>
<div class="a" style="left:914.20px;top:601.90px;width:24.6px;height:24.6px;border-radius:50%;border:1px solid #dcdcdf;background:#fdfdfd"></div>
<svg class="a" style="left:920.50px;top:608.20px" width="12" height="12" viewBox="0 0 12 12" ><path d="M2 1.8h2.4l5.6 8.4H7.6zM2 10.2l3.4-3.9M10 1.8L6.8 5.5" fill="none" stroke="#55565a" stroke-width="0.9"/></svg>
<div class="a" style="left:945.00px;top:601.90px;width:24.6px;height:24.6px;border-radius:50%;border:1px solid #dcdcdf;background:#fdfdfd"></div>
<svg class="a" style="left:951.30px;top:608.20px" width="12" height="12" viewBox="0 0 12 12" ><path d="M2.2 4.6h1.7v5.6H2.2zM3.05 2a1 1 0 1 1 0 2 1 1 0 0 1 0-2zM5 4.6h1.6v.8c.3-.5.9-1 1.9-1 1.7 0 2 1.1 2 2.6v3.2H8.8V7.4c0-.7 0-1.5-.9-1.5s-1.1.7-1.1 1.5v2.8H5z" fill="#55565a"/></svg>
<div class="a" style="left:975.80px;top:601.90px;width:24.6px;height:24.6px;border-radius:50%;border:1px solid #dcdcdf;background:#fdfdfd"></div>
<svg class="a" style="left:982.10px;top:608.20px" width="12" height="12" viewBox="0 0 12 12" ><path d="M7.6 10.6c-1.7 0-3-.8-3-2.8V5H3.5V3.6c1.2-.4 1.8-1.4 1.9-2.6h1.3v2.3h2v1.7h-2v2.6c0 .8.4 1.2 1 1.2.4 0 .8-.1 1.1-.3v1.6c-.4.3-.9.5-1.2.5z" fill="#55565a"/></svg>
<div class="a" style="left:1006.60px;top:601.90px;width:24.6px;height:24.6px;border-radius:50%;border:1px solid #dcdcdf;background:#fdfdfd"></div>
<svg class="a" style="left:1012.90px;top:608.20px" width="12" height="12" viewBox="0 0 12 12" ><path d="M6 2.2a4.6 4.6 0 1 1-2.6 8.4L1.3 11.2l.7-2A4.6 4.6 0 0 1 6 2.2z" fill="#55565a"/><circle cx="4.3" cy="6.5" r=".8" fill="#fff"/><circle cx="7.7" cy="6.5" r=".8" fill="#fff"/><path d="M4.1 8.4c1.1.8 2.7.8 3.8 0" fill="none" stroke="#fff" stroke-width=".7" stroke-linecap="round"/><path d="M6.6 2.3L7.4 0.8L9.3 1.3" fill="none" stroke="#55565a" stroke-width=".7"/><circle cx="9.8" cy="1.5" r="1" fill="#55565a"/></svg>
<div class="a" style="left:283.05px;top:622.75px;width:26.5px;height:26.5px;border-radius:50%;background:#e9dcf7"></div>
<svg class="a" style="left:290.00px;top:630.00px" width="12" height="12" viewBox="0.3 0.4 11.2 11.2" ><path d="M3.3 1.6c.4-.2.9 0 1.1.4l.8 1.6c.2.4.1.8-.2 1.1l-.6.5c.4 1 1.4 2 2.4 2.4l.5-.6c.3-.3.7-.4 1.1-.2l1.6.8c.4.2.6.7.4 1.1l-.3.8c-.3.7-1 1-1.7.9C5.6 10 2 6.4 1.6 3.6c-.1-.7.2-1.4.9-1.7z" fill="none" stroke="#6a4599" stroke-width="1.25"/></svg>
<div class="t b" style="left:283.00px;top:660.00px;font-size:11.23px;color:#2b2c30;">MassageSample Retreat</div>
<svg class="a" style="left:282.80px;top:682.30px" width="8" height="7" viewBox="0 0 8 7" ><path d="M0.8 3.6l2.2 2.2L7.2 1.2" fill="none" stroke="#3aa757" stroke-width="1" stroke-linecap="round" stroke-linejoin="round"/></svg>
<div class="t" style="left:296.10px;top:682.00px;font-size:9.9px;color:#35363a;">massagesample@turncage.com</div>
<svg class="a" style="left:282.80px;top:697.80px" width="8" height="7" viewBox="0 0 8 7" ><path d="M0.8 3.6l2.2 2.2L7.2 1.2" fill="none" stroke="#3aa757" stroke-width="1" stroke-linecap="round" stroke-linejoin="round"/></svg>
<div class="t" style="left:296.10px;top:698.00px;font-size:9.9px;color:#35363a;">(303) 555-1313</div>
<svg class="a" style="left:282.80px;top:713.30px" width="8" height="7" viewBox="0 0 8 7" ><path d="M0.8 3.6l2.2 2.2L7.2 1.2" fill="none" stroke="#3aa757" stroke-width="1" stroke-linecap="round" stroke-linejoin="round"/></svg>
<div class="t" style="left:296.10px;top:713.00px;font-size:9.9px;color:#35363a;">Address</div>
<div class="a" style="left:562.75px;top:622.75px;width:26.5px;height:26.5px;border-radius:50%;background:#f7c8dc"></div>
<svg class="a" style="left:570.00px;top:630.00px" width="12" height="12" viewBox="0 0 12 12" ><path d="M6 10.3L2.1 6.4a2.5 2.5 0 0 1 3.5-3.5l.4.4.4-.4a2.5 2.5 0 0 1 3.5 3.5z" fill="none" stroke="#b9306a" stroke-width="1.2" stroke-linejoin="round"/><path d="M3.3 6.3h1.5l.8-1.1 1 1.9.7-.8h1.4" fill="none" stroke="#d04a82" stroke-width=".8"/></svg>
<div class="t b" style="left:563.00px;top:660.00px;font-size:11.3px;color:#2b2c30;">Site Health</div>
<svg class="a" style="left:562.80px;top:682.30px" width="8" height="7" viewBox="0 0 8 7" ><path d="M0.8 3.6l2.2 2.2L7.2 1.2" fill="none" stroke="#3aa757" stroke-width="1" stroke-linecap="round" stroke-linejoin="round"/></svg>
<div class="t" style="left:573.30px;top:682.00px;font-size:9.97px;color:#35363a;">Your Site is Active</div>
<svg class="a" style="left:563.20px;top:697.60px" width="7" height="7" viewBox="0 0 7 7" ><path d="M1 1l5 5M6 1L1 6" stroke="#9a9b9f" stroke-width="0.9"/></svg>
<div class="t" style="left:573.30px;top:698.00px;font-size:9.84px;color:#7d7e82;">Domain Connected</div>
<svg class="a" style="left:562.80px;top:713.30px" width="8" height="7" viewBox="0 0 8 7" ><path d="M0.8 3.6l2.2 2.2L7.2 1.2" fill="none" stroke="#3aa757" stroke-width="1" stroke-linecap="round" stroke-linejoin="round"/></svg>
<div class="t" style="left:573.30px;top:713.00px;font-size:9.97px;color:#35363a;">Certified SSL Secure</div>
</div></body></html>
